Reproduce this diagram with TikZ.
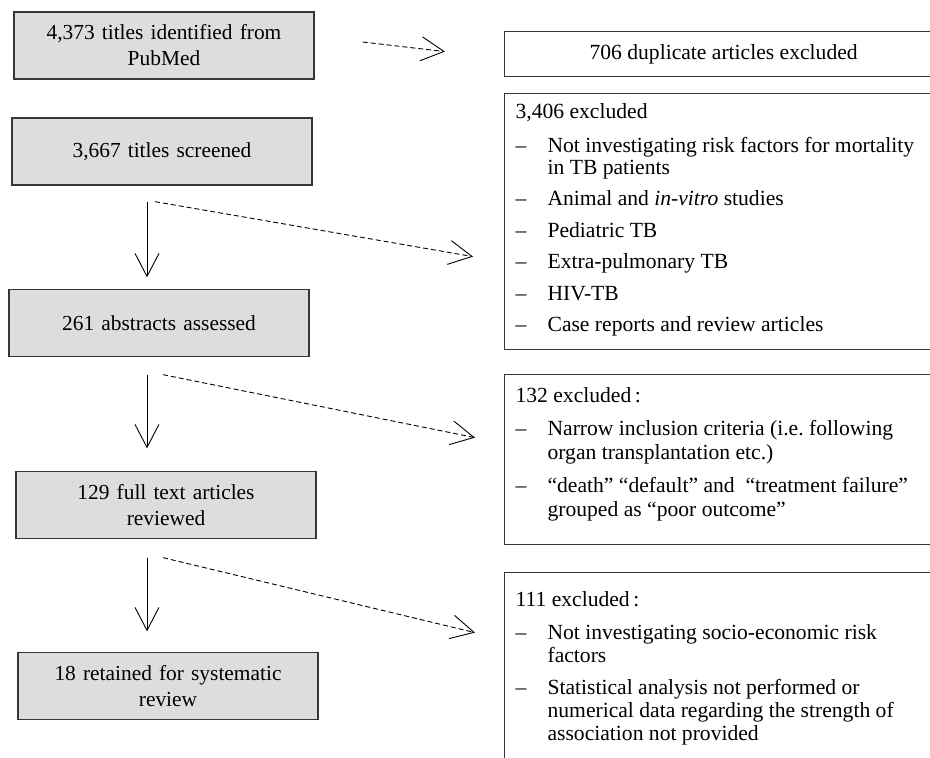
\documentclass[tikz,border=0pt]{standalone}
\usepackage{fontspec}
\setmainfont{Liberation Serif}
\usetikzlibrary{arrows.meta}
\usetikzlibrary{calc}
\definecolor{boxfill}{RGB}{220,221,223}
\definecolor{boxline}{RGB}{55,55,55}
\tikzset{>={Straight Barb[length=23pt,width=24pt]}}
\tikzset{
  stage/.style={draw=boxline, fill=boxfill, line width=1.3pt, minimum width=300pt,
    minimum height=67pt, text width=290pt, align=center, inner sep=0pt,
    font=\fontsize{21.4}{26}\selectfont},
  excl/.style={draw=boxline, line width=1.2pt, anchor=north west, inner xsep=11pt,
    inner ysep=0pt, font=\fontsize{21.6}{23}\selectfont},
  flow/.style={->, line width=0.9pt},
  skip/.style={->, line width=0.9pt, dash pattern=on 5pt off 3pt},
}
\newlength{\itemgap}
\setlength{\itemgap}{9.5pt}
\newcommand{\exitem}[1]{\par\vspace{\itemgap}\hangindent=32pt\hangafter=1\noindent\makebox[32pt][l]{--}#1}
\newcommand{\exlist}[3]{\parbox[c][#1][t]{416pt}{\vspace*{#2}\noindent #3}}

\begin{document}
\begin{tikzpicture}[x=1pt,y=-1pt]
    \useasboundingbox (0,0) rectangle (930,758);
    \clip (0,0) rectangle (930,758);
    %stages
    \node[stage] (b1) at (164,45.5) {4,373 titles identified from\\PubMed};
    \node[stage] (b2) at (162,151.5) {3,667 titles screened};
    \node[stage] (b3) at (159,323) {261 abstracts assessed};
    \node[stage] (b4) at (166,505) {129 full text articles\\reviewed};
    \node[stage] (b5) at (168,686) {18 retained for systematic\\review};
    \coordinate (spine) at (147,0);
    %exclusions
    \node[excl, minimum width=438pt, minimum height=45pt] (x1) at (504,31)
        {706 duplicate articles excluded};
    \node[excl, font=\fontsize{21.6}{22}\selectfont] (x2) at (504,93) {\exlist{256pt}{10pt}{3,406 excluded\par\vspace{2pt}
        \exitem{Not investigating risk factors for mortality\\in TB patients}
        \exitem{Animal and \emph{in-vitro} studies}
        \exitem{Pediatric TB}
        \exitem{Extra-pulmonary TB}
        \exitem{HIV-TB}
        \exitem{Case reports and review articles}}};
    \node[excl, font=\fontsize{21.6}{24}\selectfont] (x3) at (504,374) {\exlist{170pt}{13pt}{132 excluded\,:\par\vspace{-1pt}
        \exitem{Narrow inclusion criteria (i.e.\ following\\organ transplantation etc.)}
        \exitem{“death”\ “default” and\ \ “treatment failure”\\grouped as\ “poor outcome”}}};
    \node[excl] (x4) at (504,572) {\exlist{220pt}{19pt}{111 excluded\,:
        \exitem{Not investigating socio-economic risk\\factors}
        \exitem{Statistical analysis not performed or\\numerical data regarding the strength of\\association not provided}}};
    %main flow
    \draw[flow, shorten <=16pt, shorten >=11.5pt] (b2.south -| spine) -- (b3.north -| spine);
    \draw[flow, shorten <=17.5pt, shorten >=22.5pt] (b3.south -| spine) -- (b4.north -| spine);
    \draw[flow, shorten <=18.5pt, shorten >=20.5pt] (b4.south -| spine) -- (b5.north -| spine);
    %excluded
    \draw[skip] ($(b1.east)+(48,-3.5)$) -- ($(x1.west)+(-59,-2.5)$);
    \draw[skip] ($(b2.south -| spine)+(8,16)$) -- ($(x2.west)+(-31,35)$);
    \draw[skip] ($(b3.south -| spine)+(16,17.5)$) -- ($(x3.west)+(-29,-22)$);
    \draw[skip] ($(b4.south -| spine)+(16,18.5)$) -- ($(x4.west)+(-29,-50)$);
\end{tikzpicture}
\end{document}
